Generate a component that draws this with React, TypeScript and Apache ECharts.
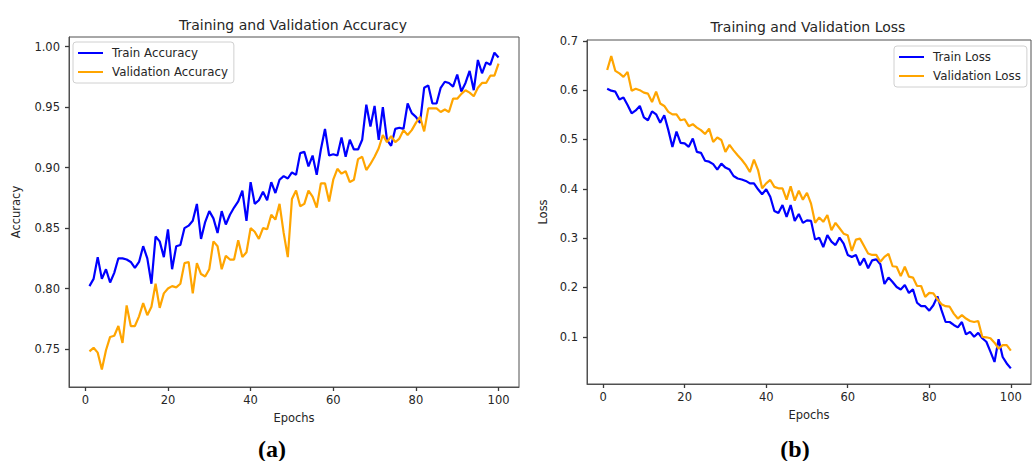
import React, { useEffect, useRef } from "react";
import * as echarts from "echarts";

const epochs: number[] = Array.from({ length: 100 }, (_, i) => i + 1);

const trainAcc: number[] = [
  0.802, 0.808, 0.826, 0.808, 0.816, 0.805, 0.813, 0.825, 0.825, 0.824,
  0.822, 0.817, 0.822, 0.835, 0.825, 0.804, 0.843, 0.839, 0.826, 0.849,
  0.816, 0.835, 0.836, 0.850, 0.852, 0.856, 0.870, 0.841, 0.855, 0.864,
  0.858, 0.846, 0.864, 0.853, 0.861, 0.867, 0.872, 0.881, 0.856, 0.888,
  0.870, 0.873, 0.880, 0.873, 0.888, 0.879, 0.890, 0.893, 0.891, 0.896,
  0.894, 0.912, 0.913, 0.901, 0.910, 0.894, 0.915, 0.932, 0.910, 0.911,
  0.910, 0.925, 0.909, 0.923, 0.915, 0.915, 0.923, 0.952, 0.934, 0.951,
  0.923, 0.950, 0.923, 0.918, 0.932, 0.933, 0.932, 0.953, 0.945, 0.942,
  0.937, 0.966, 0.968, 0.953, 0.953, 0.966, 0.971, 0.970, 0.967, 0.977,
  0.963, 0.970, 0.980, 0.964, 0.989, 0.978, 0.987, 0.985, 0.995, 0.991,
];

const valAcc: number[] = [
  0.748, 0.751, 0.747, 0.733, 0.749, 0.760, 0.761, 0.769, 0.755, 0.786,
  0.769, 0.769, 0.777, 0.788, 0.778, 0.785, 0.804, 0.784, 0.796, 0.800,
  0.802, 0.801, 0.804, 0.821, 0.822, 0.796, 0.821, 0.812, 0.810, 0.816,
  0.839, 0.835, 0.816, 0.827, 0.824, 0.824, 0.840, 0.826, 0.830, 0.850,
  0.847, 0.841, 0.850, 0.849, 0.861, 0.857, 0.870, 0.846, 0.826, 0.874,
  0.881, 0.868, 0.870, 0.881, 0.876, 0.867, 0.887, 0.887, 0.872, 0.890,
  0.899, 0.895, 0.897, 0.888, 0.890, 0.907, 0.909, 0.898, 0.903, 0.909,
  0.916, 0.927, 0.921, 0.926, 0.921, 0.924, 0.931, 0.927, 0.931, 0.937,
  0.942, 0.930, 0.949, 0.949, 0.949, 0.946, 0.948, 0.946, 0.957, 0.957,
  0.961, 0.964, 0.962, 0.959, 0.966, 0.970, 0.970, 0.976, 0.976, 0.986,
];

const trainLoss: number[] = [
  0.603, 0.599, 0.597, 0.581, 0.585, 0.570, 0.553, 0.559, 0.568, 0.545,
  0.539, 0.557, 0.551, 0.534, 0.549, 0.519, 0.485, 0.516, 0.493, 0.492,
  0.485, 0.502, 0.475, 0.473, 0.457, 0.455, 0.450, 0.439, 0.451, 0.443,
  0.439, 0.426, 0.421, 0.419, 0.416, 0.411, 0.411, 0.399, 0.389, 0.399,
  0.384, 0.355, 0.351, 0.367, 0.343, 0.367, 0.335, 0.349, 0.331, 0.336,
  0.335, 0.297, 0.301, 0.282, 0.306, 0.293, 0.286, 0.301, 0.289, 0.266,
  0.262, 0.266, 0.245, 0.259, 0.239, 0.255, 0.257, 0.247, 0.207, 0.220,
  0.211, 0.201, 0.196, 0.205, 0.189, 0.196, 0.169, 0.162, 0.162, 0.153,
  0.164, 0.182, 0.154, 0.130, 0.130, 0.124, 0.119, 0.130, 0.105, 0.110,
  0.100, 0.108, 0.097, 0.090, 0.070, 0.049, 0.095, 0.059, 0.046, 0.036,
];

const valLoss: number[] = [
  0.641, 0.669, 0.639, 0.634, 0.627, 0.637, 0.599, 0.603, 0.600, 0.595,
  0.593, 0.576, 0.597, 0.573, 0.568, 0.556, 0.551, 0.551, 0.539, 0.541,
  0.527, 0.531, 0.524, 0.519, 0.511, 0.522, 0.495, 0.504, 0.499, 0.475,
  0.489, 0.478, 0.468, 0.459, 0.448, 0.434, 0.459, 0.438, 0.401, 0.411,
  0.418, 0.404, 0.401, 0.401, 0.378, 0.405, 0.376, 0.396, 0.378, 0.392,
  0.370, 0.331, 0.342, 0.333, 0.347, 0.316, 0.331, 0.320, 0.309, 0.306,
  0.274, 0.297, 0.299, 0.284, 0.269, 0.266, 0.266, 0.252, 0.262, 0.268,
  0.243, 0.242, 0.223, 0.242, 0.222, 0.220, 0.203, 0.203, 0.181, 0.189,
  0.188, 0.176, 0.166, 0.162, 0.161, 0.147, 0.137, 0.144, 0.137, 0.132,
  0.130, 0.132, 0.100, 0.099, 0.097, 0.088, 0.076, 0.083, 0.083, 0.072,
];

const xTicks: number[] = [0, 20, 40, 60, 80, 100];
const accTicks: number[] = [0.75, 0.8, 0.85, 0.9, 0.95, 1.0];
const lossTicks: number[] = [0.1, 0.2, 0.3, 0.4, 0.5, 0.6, 0.7];

const FONT = "DejaVu Sans";
const TXT = "#262626";
const AX = "#505050";
const TICK = "#3a3a3a";
const BLUE = "#0000ff";
const ORANGE = "#ffa500";
const X_MIN = -3.95;
const X_MAX = 104.95;
const ACC_MIN = 0.7186;
const ACC_MAX = 1.008;
const LOSS_MIN = 0.0043;
const LOSS_MAX = 0.7017;

const pairs = (ys: number[]) => epochs.map((e, i) => [e, ys[i]]);

function makeX(gridIndex: number, nameGap: number) {
  return {
    type: "value",
    gridIndex,
    min: X_MIN,
    max: X_MAX,
    name: "Epochs",
    nameLocation: "middle",
    nameGap,
    nameTextStyle: { fontFamily: FONT, fontSize: 11.5, color: TXT },
    axisLine: { show: true, onZero: false, lineStyle: { color: AX, width: 1 } },
    splitLine: { show: false },
    axisTick: { show: true, inside: false, length: 4, customValues: xTicks, lineStyle: { color: TICK, width: 1.3 } },
    axisLabel: {
      customValues: xTicks,
      margin: 7,
      fontFamily: FONT,
      fontSize: 11.5,
      color: TXT,
      formatter: (v: number) => String(Math.round(v)),
    },
  };
}

function makeY(gridIndex: number, name: string, nameGap: number, min: number, max: number, ticks: number[], digits: number) {
  return {
    type: "value",
    gridIndex,
    min,
    max,
    name,
    nameLocation: "middle",
    nameGap,
    nameRotate: 90,
    nameTextStyle: { fontFamily: FONT, fontSize: 11.5, color: TXT },
    axisLine: { show: true, onZero: false, lineStyle: { color: AX, width: 1 } },
    splitLine: { show: false },
    axisTick: { show: true, inside: false, length: 4, customValues: ticks, lineStyle: { color: TICK, width: 1.3 } },
    axisLabel: {
      customValues: ticks,
      margin: 9,
      fontFamily: FONT,
      fontSize: 11.5,
      color: TXT,
      formatter: (v: number) => v.toFixed(digits),
    },
  };
}

function makeLegend(names: string[], left: number, top: number) {
  return {
    data: names,
    orient: "vertical",
    left,
    top,
    padding: [4, 6, 4, 5],
    itemGap: 5,
    itemWidth: 25,
    itemHeight: 2,
    icon: "rect",
    backgroundColor: "#fff",
    borderColor: "#d0d0d0",
    borderWidth: 1,
    borderRadius: 3,
    textStyle: {
      fontFamily: FONT,
      fontSize: 11.8,
      color: TXT,
      lineHeight: 14,
      padding: [0, 0, 0, 4],
    },
  };
}

function lineSeries(name: string, ys: number[], color: string, idx: number) {
  return {
    type: "line",
    name,
    xAxisIndex: idx,
    yAxisIndex: idx,
    data: pairs(ys),
    showSymbol: false,
    symbol: "none",
    color,
    lineStyle: { color, width: 2.2 },
    z: 3,
  };
}

export default function App() {
  const ref = useRef<HTMLDivElement>(null);
  useEffect(() => {
    if (!ref.current) return;
    const chart = echarts.init(ref.current, undefined, { renderer: "svg" });
    chart.setOption({
      animation: false,
      backgroundColor: "#fff",
      grid: [
        { left: 69, top: 37, width: 450, height: 350, show: true, borderColor: AX, borderWidth: 1, backgroundColor: "transparent" },
        { left: 587, top: 40, width: 444, height: 344, show: true, borderColor: AX, borderWidth: 1, backgroundColor: "transparent" },
      ],
      xAxis: [makeX(0, 25), makeX(1, 25)],
      yAxis: [
        makeY(0, "Accuracy", 47, ACC_MIN, ACC_MAX, accTicks, 2),
        makeY(1, "Loss", 38, LOSS_MIN, LOSS_MAX, lossTicks, 1),
      ],
      legend: [
        makeLegend(["Train Accuracy", "Validation Accuracy"], 73, 42),
        makeLegend(["Train Loss", "Validation Loss"], 894, 46),
      ],
      series: [
        lineSeries("Train Accuracy", trainAcc, BLUE, 0),
        lineSeries("Validation Accuracy", valAcc, ORANGE, 0),
        lineSeries("Train Loss", trainLoss, BLUE, 1),
        lineSeries("Validation Loss", valLoss, ORANGE, 1),
      ],
      graphic: [
        { type: "text", x: 293, y: 25, style: { text: "Training and Validation Accuracy", fontFamily: FONT, fontSize: 14, fill: TXT, align: "center", verticalAlign: "middle" } },
        { type: "text", x: 808, y: 27, style: { text: "Training and Validation Loss", fontFamily: FONT, fontSize: 14, fill: TXT, align: "center", verticalAlign: "middle" } },
        { type: "text", x: 272, y: 449, style: { text: "(a)", fontFamily: "Liberation Serif", fontWeight: "bold", fontSize: 24, fill: "#000", align: "center", verticalAlign: "middle" } },
        { type: "text", x: 795, y: 449, style: { text: "(b)", fontFamily: "Liberation Serif", fontWeight: "bold", fontSize: 24, fill: "#000", align: "center", verticalAlign: "middle" } },
      ],
    });
    return () => chart.dispose();
  }, []);
  return <div ref={ref} style={{ position: "absolute", left: 0, top: 0, width: 1033, height: 461 }} />;
}
